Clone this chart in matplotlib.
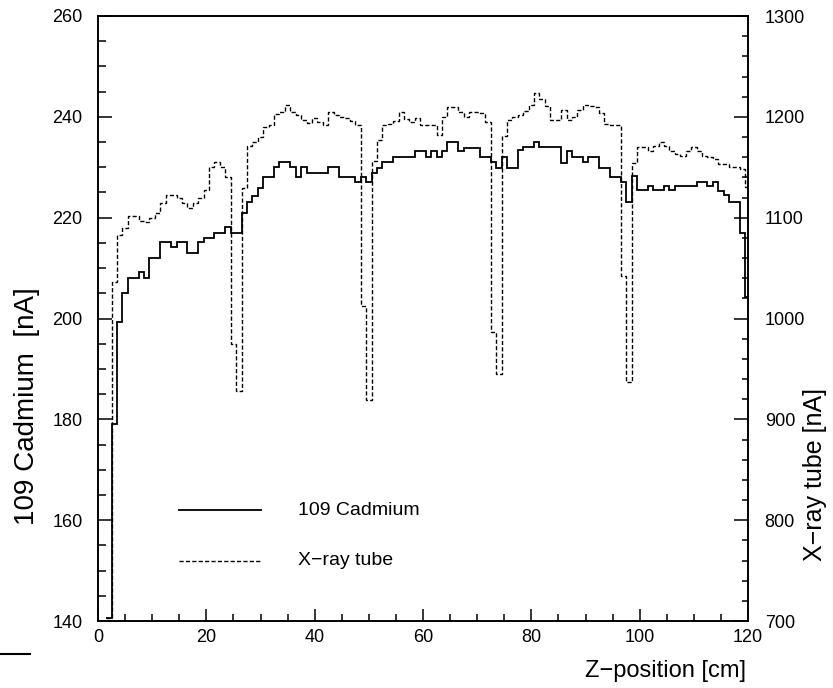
import numpy as np
import matplotlib
matplotlib.use("Agg")
import matplotlib.pyplot as plt
from matplotlib.ticker import MultipleLocator
from matplotlib.lines import Line2D

plt.rcParams["font.family"] = ["Liberation Sans", "DejaVu Sans"]

# 1 cm bins, centres at 2, 3, ..., 120
bin_centres = np.arange(2, 121)

# 109 Cadmium source current [nA] (left axis)
cadmium = [
    140.5, 179.0, 199.4, 205.1, 208.1, 208.1, 209.2, 208.1, 212.0, 212.0,   # 2-11
    215.1, 215.1, 214.2, 215.1, 215.1, 213.0, 213.0, 215.1, 215.9, 215.9,   # 12-21
    217.0, 217.0, 218.1, 217.0, 217.0, 221.0, 223.1, 224.3, 225.9, 228.1,   # 22-31
    228.1, 230.1, 231.1, 231.1, 230.1, 228.1, 230.1, 228.9, 228.9, 228.9,   # 32-41
    228.9, 230.1, 230.1, 228.1, 228.1, 228.1, 227.0, 228.1, 227.0, 228.9,   # 42-51
    229.9, 231.0, 231.0, 232.1, 232.1, 232.1, 232.1, 233.2, 233.2, 232.1,   # 52-61
    233.2, 232.1, 233.2, 235.0, 235.0, 233.2, 233.9, 233.9, 233.9, 232.1,   # 62-71
    232.1, 231.1, 229.8, 232.1, 229.9, 229.9, 233.5, 234.1, 234.1, 235.0,   # 72-81
    234.1, 234.1, 234.1, 234.1, 230.9, 233.2, 232.1, 232.1, 231.0, 232.1,   # 82-91
    232.1, 229.9, 229.9, 228.1, 228.1, 227.1, 223.1, 228.3, 225.5, 225.5,   # 92-101
    226.3, 225.5, 225.5, 226.3, 225.5, 226.3, 226.3, 226.3, 226.3, 227.1,   # 102-111
    227.1, 226.3, 227.1, 225.3, 224.5, 223.1, 223.1, 217.0, 204.2,          # 112-120
]

# X-ray tube current [nA] (right axis)
xray = [
    702.5, 1036, 1083, 1090, 1102, 1102, 1097, 1096, 1100, 1105,   # 2-11
    1115, 1122, 1122, 1120, 1115, 1110, 1115, 1120, 1127, 1150,    # 12-21
    1155, 1150, 1140, 975, 928, 1129, 1171, 1175, 1180, 1190,      # 22-31
    1192, 1203, 1205, 1212, 1205, 1202, 1197, 1194, 1199, 1195,    # 32-41
    1192, 1205, 1202, 1200, 1199, 1196, 1192, 1012, 919, 1156,     # 42-51
    1177, 1192, 1193, 1196, 1205, 1198, 1195, 1199, 1192, 1192,    # 52-61
    1192, 1182, 1200, 1210, 1210, 1205, 1200, 1205, 1205, 1204,    # 62-71
    1195, 987, 945, 1181, 1197, 1200, 1202, 1206, 1212, 1224,      # 72-81
    1218, 1211, 1197, 1197, 1207, 1197, 1200, 1207, 1212, 1211,    # 82-91
    1210, 1204, 1193, 1192, 1192, 1042, 937, 1154, 1170, 1170,     # 92-101
    1166, 1171, 1175, 1171, 1166, 1163, 1161, 1166, 1170, 1166,    # 102-111
    1161, 1160, 1158, 1153, 1153, 1150, 1150, 1148, 1130,          # 112-120
]

edges = np.append(bin_centres - 0.5, bin_centres[-1] + 0.5)

fig = plt.figure(figsize=(8.33, 6.88), dpi=100)
ax = fig.add_axes([98 / 833, 67 / 688, 650 / 833, 605 / 688])
ax2 = ax.twinx()

ax.stairs(cadmium, edges, baseline=None, color="black", linewidth=1.3)
ax2.stairs(xray, edges, baseline=None, color="black", linewidth=1.0,
           linestyle=(0, (3, 1.6)))

ax.set_xlim(0, 120)
ax.set_ylim(140, 260)
ax2.set_ylim(700, 1300)

ax.xaxis.set_major_locator(MultipleLocator(20))
ax.xaxis.set_minor_locator(MultipleLocator(5))
ax.yaxis.set_major_locator(MultipleLocator(20))
ax.yaxis.set_minor_locator(MultipleLocator(5))
ax2.yaxis.set_major_locator(MultipleLocator(100))
ax2.yaxis.set_minor_locator(MultipleLocator(20))

ax.tick_params(axis="y", which="both", direction="in", right=False,
               labelsize=13, pad=11, width=1.1)
ax.tick_params(axis="y", which="major", length=10)
ax.tick_params(axis="y", which="minor", length=5.5)
ax.tick_params(axis="x", which="both", direction="in", top=False,
               labelsize=13, pad=6, width=1.1)
ax.tick_params(axis="x", which="major", length=8.5)
ax.tick_params(axis="x", which="minor", length=5)
ax2.tick_params(axis="y", which="both", direction="in", labelsize=13,
                pad=12, width=1.1)
ax2.tick_params(axis="y", which="major", length=10)
ax2.tick_params(axis="y", which="minor", length=4.5)

for a in (ax, ax2):
    for s in a.spines.values():
        s.set_linewidth(1.2)

# legend drawn by hand like the original
ax.plot([15, 30], [162, 162], color="black", linewidth=1.3)
ax.plot([15, 30], [152, 152], color="black", linewidth=1.0,
        linestyle=(0, (3, 1.6)))
ax.text(37, 162, "109 Cadmium", fontsize=14, va="center")
ax.text(37, 152, "X\u2212ray tube", fontsize=14, va="center")

fig.text(0.033, 0.41, "109 Cadmium  [nA]", rotation=90, fontsize=20,
         ha="center", va="center")
fig.text(0.978, 0.31, "X\u2212ray tube [nA]", rotation=90, fontsize=18,
         ha="center", va="center")
fig.text(0.895, 0.025, "Z\u2212position [cm]", fontsize=17,
         ha="right", va="center")

fig.add_artist(Line2D([0, 0.036], [0.05, 0.05], color="black",
                      linewidth=1.5))

fig.savefig("out.png", dpi=100)
